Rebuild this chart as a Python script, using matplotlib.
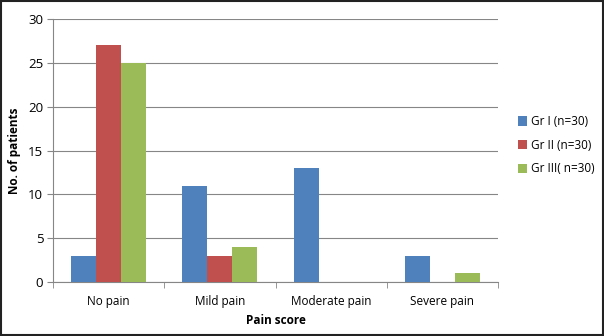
import matplotlib.pyplot as plt
import numpy as np
from matplotlib.patches import Rectangle

categories = ['No pain', 'Mild pain', 'Moderate pain', 'Severe pain']
series_names = ['Gr I (n=30)', 'Gr II (n=30)', 'Gr III( n=30)']
gr1 = [3, 11, 13, 3]
gr2 = [27, 3, 0, 0]
gr3 = [25, 4, 0, 1]
colors = ['#4F81BD', '#C0504D', '#9BBB59']

plt.rcParams['font.family'] = ['Open Sans', 'DejaVu Sans']

fig = plt.figure(figsize=(6.04, 3.36), dpi=100)
ax = fig.add_axes([53 / 604, 1 - 282 / 336, (498 - 53) / 604, (282 - 19) / 336])

x = np.arange(len(categories))
w = 0.225
for i, (vals, name) in enumerate(zip([gr1, gr2, gr3], series_names)):
    ax.bar(x + (i - 1) * w, vals, w, color=colors[i], label=name, zorder=3)

ax.set_xlim(-0.5, 3.5)
ax.set_ylim(0, 30)
ax.set_yticks(range(0, 31, 5))
ax.set_xticks(x)
ax.set_xticklabels(categories)
ax.set_xticks(np.arange(-0.5, 4, 1), minor=True)
ax.tick_params(axis='x', which='major', length=0, pad=9, labelsize=8.5)
ax.tick_params(axis='x', which='minor', length=4, color='#868686')
ax.tick_params(axis='y', length=4, color='#868686', labelsize=9.5, pad=3)
ax.grid(axis='y', color='#868686', linewidth=0.8, zorder=0)

for s in ['top', 'right']:
    ax.spines[s].set_visible(False)
for s in ['left', 'bottom']:
    ax.spines[s].set_color('#868686')

ax.set_xlabel('Pain score', fontsize=8.5, fontweight='bold', labelpad=5)
ax.set_ylabel('No. of patients', fontsize=8.5, fontweight='bold', labelpad=5)

ax.legend(loc='center left', bbox_to_anchor=(1.02, 0.52), frameon=False,
          fontsize=8.5, handlelength=0.8, handleheight=0.8, handletextpad=0.3,
          labelspacing=0.9)

fig.patches.append(Rectangle((0.002, 0.003), 0.996, 0.994, transform=fig.transFigure,
                             fill=False, edgecolor='#222222', linewidth=1.5))

plt.savefig('out.png', dpi=100)
